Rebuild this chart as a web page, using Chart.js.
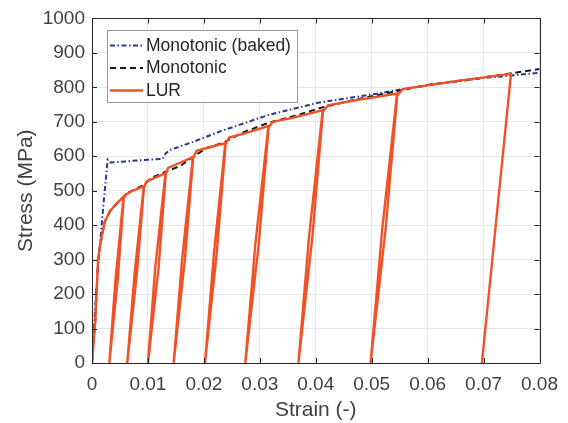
<!DOCTYPE html>
<html>
<head>
<meta charset="utf-8">
<script src="https://cdn.jsdelivr.net/npm/chart.js@4"></script>
<style>
  html, body { margin: 0; padding: 0; background: #fff; }
</style>
</head>
<body>
<canvas id="stress-strain" width="568" height="423"></canvas>
<script>
// axis ticks
const xTickValues = [0, 0.01, 0.02, 0.03, 0.04, 0.05, 0.06, 0.07, 0.08];
const xTickLabels = ["0", "0.01", "0.02", "0.03", "0.04", "0.05", "0.06", "0.07", "0.08"];
const yTickValues = [0, 100, 200, 300, 400, 500, 600, 700, 800, 900, 1000];
const yTickLabels = ["0", "100", "200", "300", "400", "500", "600", "700", "800", "900", "1000"];

// Monotonic (baked)
const bakedStrain = [0, 0.0007, 0.0014, 0.0021, 0.0028, 0.0033, 0.0060, 0.0100, 0.0126, 0.0132, 0.0141,
  0.0183, 0.0227, 0.0316, 0.0404, 0.0511, 0.0546, 0.0600, 0.0700, 0.0800];
const bakedStress = [0, 200, 340, 470, 590, 582, 585, 590, 592, 609, 619,
  643, 671, 720, 755, 782, 792, 806, 827, 842];

// Monotonic
const monoStrain = [0, 0.0006, 0.0011, 0.0017, 0.0023, 0.0035, 0.0047, 0.0064, 0.0091, 0.0106, 0.0129,
  0.0159, 0.0183, 0.0205, 0.0236, 0.0268, 0.0316, 0.0360, 0.0410, 0.0470, 0.0546, 0.0600,
  0.0680, 0.0747, 0.0800];
const monoStress = [0, 125, 306, 364, 412, 448, 467, 494, 515, 537, 553,
  573, 601, 624, 640, 668, 697, 716, 741, 764, 789, 807,
  824, 840, 853];

// LUR (load - unload - reload)
const lurStrain = [0, 0.0006, 0.0011, 0.0017, 0.0023, 0.0032, 0.0047, 0.0057,
  0.0046, 0.0031,
  0.0042, 0.0056, 0.0061, 0.0070, 0.0093,
  0.0080, 0.0063,
  0.0076, 0.0092, 0.0097, 0.0110, 0.0132,
  0.0119, 0.0100,
  0.0113, 0.0131, 0.0136, 0.0150, 0.0181,
  0.0166, 0.0146,
  0.0161, 0.0180, 0.0187, 0.0205, 0.0239,
  0.0223, 0.0202,
  0.0218, 0.0238, 0.0245, 0.0270, 0.0316,
  0.0298, 0.0274,
  0.0292, 0.0315, 0.0323, 0.0360, 0.0413,
  0.0394, 0.0369,
  0.0388, 0.0412, 0.0422, 0.0470, 0.0546,
  0.0525, 0.0498,
  0.0519, 0.0545, 0.0556, 0.0650, 0.0749,
  0.0723, 0.0697];
const lurStress = [0, 125, 306, 364, 410, 441, 467, 484,
  242, 0,
  242, 476, 489, 498, 513,
  256, 0,
  256, 505, 526, 536, 551,
  276, 0,
  276, 545, 566, 576, 598,
  299, 0,
  299, 592, 616, 624, 638,
  319, 0,
  319, 632, 654, 665, 688,
  344, 0,
  344, 682, 700, 712, 734,
  367, 0,
  367, 728, 748, 762, 782,
  391, 0,
  391, 776, 795, 818, 839,
  420, 0];

const FONT = "'Liberation Sans', Arial, Helvetica, sans-serif";
const AXIS_COLOR = "#262626";
const TEXT_COLOR = "#404040";

function points(xs, ys) {
  return xs.map((x, i) => ({ x: x, y: ys[i] }));
}

// MATLAB-like box with inward ticks on all four sides
const framePlugin = {
  id: "frame",
  afterDatasetsDraw(chart) {
    const ctx = chart.ctx;
    const a = chart.chartArea;
    const xs = chart.scales.x;
    const ys = chart.scales.y;
    const tl = 5;
    ctx.save();
    ctx.strokeStyle = AXIS_COLOR;
    ctx.lineWidth = 1;
    ctx.beginPath();
    ctx.rect(Math.round(a.left) + 0.5, Math.round(a.top) + 0.5,
      Math.round(a.right - a.left), Math.round(a.bottom - a.top));
    xTickValues.forEach(v => {
      const px = Math.round(xs.getPixelForValue(v)) + 0.5;
      ctx.moveTo(px, a.bottom);
      ctx.lineTo(px, a.bottom - tl);
      ctx.moveTo(px, a.top);
      ctx.lineTo(px, a.top + tl);
    });
    yTickValues.forEach(v => {
      const py = Math.round(ys.getPixelForValue(v)) + 0.5;
      ctx.moveTo(a.left, py);
      ctx.lineTo(a.left + tl, py);
      ctx.moveTo(a.right, py);
      ctx.lineTo(a.right - tl, py);
    });
    ctx.stroke();
    ctx.restore();
  }
};

// legend box inside the axes, top left
const boxLegendPlugin = {
  id: "boxLegend",
  afterDraw(chart) {
    const ctx = chart.ctx;
    const left = 107, top = 30, w = 190, h = 72;
    ctx.save();
    ctx.fillStyle = "#fff";
    ctx.fillRect(left, top, w, h);
    ctx.strokeStyle = "#999";
    ctx.lineWidth = 1;
    ctx.strokeRect(left + 0.5, top + 0.5, w, h);
    ctx.font = "17.5px " + FONT;
    ctx.textBaseline = "middle";
    ctx.textAlign = "left";
    const ds = chart.data.datasets.slice().sort((p, q) => q.order - p.order);
    ds.forEach((d, i) => {
      const y = top + 15 + i * 22.5;
      ctx.strokeStyle = d.borderColor;
      ctx.lineWidth = d.borderWidth;
      ctx.setLineDash(d.borderDash || []);
      ctx.beginPath();
      ctx.moveTo(110, y + 0.5);
      ctx.lineTo(143, y + 0.5);
      ctx.stroke();
      ctx.setLineDash([]);
      ctx.fillStyle = AXIS_COLOR;
      ctx.fillText(d.label, 146, y + 1);
    });
    ctx.restore();
  }
};

const ctx = document.getElementById("stress-strain");

const chart = new Chart(ctx, {
  type: "scatter",
  data: {
    datasets: [
      {
        label: "Monotonic (baked)",
        data: points(bakedStrain, bakedStress),
        showLine: true,
        borderColor: "#2b3694",
        backgroundColor: "#2b3694",
        borderWidth: 2,
        borderDash: [5, 2.5, 1.5, 2.5],
        pointRadius: 0,
        order: 3,
      },
      {
        label: "Monotonic",
        data: points(monoStrain, monoStress),
        showLine: true,
        borderColor: "#1a1a1a",
        backgroundColor: "#1a1a1a",
        borderWidth: 2,
        borderDash: [6, 4],
        pointRadius: 0,
        order: 2,
      },
      {
        label: "LUR",
        data: points(lurStrain, lurStress),
        showLine: true,
        borderColor: "#f05127",
        backgroundColor: "#f05127",
        borderWidth: 2.4,
        pointRadius: 0,
        order: 1,
      },
    ],
  },
  options: {
    responsive: false,
    animation: false,
    devicePixelRatio: 1,
    layout: { padding: { left: 0, right: 25, top: 16, bottom: 0 } },
    plugins: {
      legend: { display: false },
      tooltip: { enabled: false },
    },
    scales: {
      x: {
        type: "linear",
        min: 0,
        max: 0.08,
        afterBuildTicks: s => { s.ticks = xTickValues.map(v => ({ value: v })); },
        afterFit: s => { s.height = 60; },
        ticks: {
          callback: (v, i) => xTickLabels[i],
          font: { family: FONT, size: 19 },
          color: TEXT_COLOR,
          padding: 10,
          maxRotation: 0,
          autoSkip: false,
        },
        grid: { color: "#e6e6e6", drawTicks: false },
        border: { display: false },
        title: {
          display: true,
          text: "Strain (-)",
          font: { family: FONT, size: 21 },
          color: TEXT_COLOR,
          padding: { top: 0, bottom: 0 },
        },
      },
      y: {
        type: "linear",
        min: 0,
        max: 1000,
        afterBuildTicks: s => { s.ticks = yTickValues.map(v => ({ value: v })); },
        afterFit: s => { s.width = 92; },
        ticks: {
          callback: (v, i) => yTickLabels[i],
          font: { family: FONT, size: 19 },
          color: TEXT_COLOR,
          padding: 7,
          autoSkip: false,
        },
        grid: { color: "#e6e6e6", drawTicks: false },
        border: { display: false },
        title: {
          display: true,
          text: "Stress (MPa)",
          font: { family: FONT, size: 21 },
          color: TEXT_COLOR,
          padding: { top: 14, bottom: 0 },
        },
      },
    },
  },
  plugins: [framePlugin, boxLegendPlugin],
});
</script>
</body>
</html>
